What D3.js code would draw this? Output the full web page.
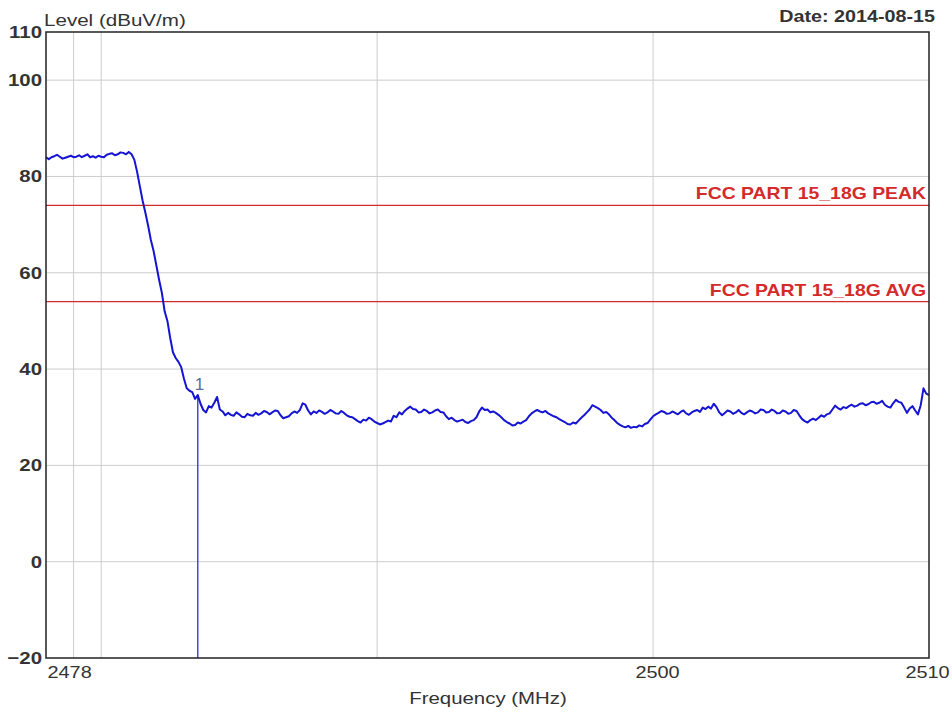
<!DOCTYPE html>
<html>
<head>
<meta charset="utf-8">
<script src="https://cdn.jsdelivr.net/npm/d3@7"></script>
<style>
  html, body { margin: 0; padding: 0; background: #fff; }
  svg { display: block; font-family: "Liberation Sans", Arial, sans-serif; }
</style>
</head>
<body>
<svg id="chart" width="952" height="714"></svg>
<script>
// Axis ranges and labels
const freqDomain = [2478, 2510];
const levelDomain = [-20, 110];
const xTickValues = [2478, 2500, 2510];
const yTickValues = [-20, 0, 20, 40, 60, 80, 100, 110];
const xGridValues = [2479, 2480, 2490, 2500];
const yGridValues = [0, 20, 40, 60, 80, 100];

// Limit lines (dBuV/m)
const limitNames = ["FCC PART 15_18G PEAK", "FCC PART 15_18G AVG"];
const limitLevels = [74, 54];

// Marker
const markerLabel = "1";
const markerFreq = 2483.5;
const markerLevel = 34.6;

// Measured trace: [frequency MHz, level dBuV/m]
const trace = [
  [2478.0, 84.0], [2478.1, 83.6], [2478.2, 84.0], [2478.3, 84.2], [2478.4, 84.5],
  [2478.5, 84.1], [2478.6, 83.7], [2478.7, 83.9], [2478.8, 84.1], [2478.9, 84.3],
  [2479.0, 84.0], [2479.1, 84.1], [2479.2, 84.4], [2479.3, 84.0], [2479.4, 84.3],
  [2479.5, 84.6], [2479.6, 84.0], [2479.7, 84.2], [2479.8, 83.9], [2479.9, 84.3],
  [2480.0, 84.1], [2480.1, 84.0], [2480.2, 84.5], [2480.3, 84.7], [2480.4, 84.8],
  [2480.5, 84.4], [2480.6, 84.6], [2480.7, 85.0], [2480.8, 84.9], [2480.9, 84.6],
  [2481.0, 85.1], [2481.1, 84.6], [2481.2, 83.5], [2481.3, 81.0], [2481.4, 78.0],
  [2481.5, 75.0], [2481.6, 72.5], [2481.7, 69.8], [2481.8, 66.8], [2481.9, 64.5],
  [2482.0, 61.5], [2482.1, 58.5], [2482.2, 55.8], [2482.3, 52.0], [2482.4, 50.0],
  [2482.5, 46.5], [2482.6, 43.5], [2482.7, 42.3], [2482.8, 41.5], [2482.9, 40.4],
  [2483.0, 38.0], [2483.1, 36.0], [2483.2, 35.5], [2483.3, 35.2], [2483.4, 33.8],
  [2483.5, 34.6], [2483.6, 32.8], [2483.7, 31.5], [2483.8, 31.0], [2483.9, 32.3],
  [2484.0, 32.0], [2484.1, 33.0], [2484.2, 34.2], [2484.3, 31.6], [2484.4, 31.2],
  [2484.5, 30.4], [2484.6, 30.9], [2484.7, 30.5], [2484.8, 30.3], [2484.9, 31.0],
  [2485.0, 30.6], [2485.1, 30.1], [2485.2, 30.0], [2485.3, 30.7], [2485.4, 30.4],
  [2485.5, 30.3], [2485.6, 30.9], [2485.7, 30.5], [2485.8, 30.8], [2485.9, 31.3],
  [2486.0, 31.1], [2486.1, 30.6], [2486.2, 31.0], [2486.3, 31.4], [2486.4, 31.3],
  [2486.5, 30.4], [2486.6, 29.8], [2486.7, 30.0], [2486.8, 30.2], [2486.9, 30.8],
  [2487.0, 31.2], [2487.1, 30.9], [2487.2, 31.5], [2487.3, 32.9], [2487.4, 32.6],
  [2487.5, 31.4], [2487.6, 30.6], [2487.7, 31.2], [2487.8, 30.9], [2487.9, 31.4],
  [2488.0, 31.1], [2488.1, 30.7], [2488.2, 31.0], [2488.3, 31.5], [2488.4, 31.2],
  [2488.5, 30.8], [2488.6, 30.7], [2488.7, 31.3], [2488.8, 30.9], [2488.9, 30.4],
  [2489.0, 30.1], [2489.1, 30.0], [2489.2, 29.6], [2489.3, 29.2], [2489.4, 28.9],
  [2489.5, 29.5], [2489.6, 29.3], [2489.7, 29.9], [2489.8, 29.6], [2489.9, 29.1],
  [2490.0, 28.8], [2490.1, 28.5], [2490.2, 28.7], [2490.3, 29.0], [2490.4, 29.3],
  [2490.5, 29.1], [2490.6, 30.3], [2490.7, 30.0], [2490.8, 31.0], [2490.9, 30.6],
  [2491.0, 31.3], [2491.1, 31.8], [2491.2, 32.2], [2491.3, 31.7], [2491.4, 31.6],
  [2491.5, 31.0], [2491.6, 31.1], [2491.7, 31.6], [2491.8, 31.3], [2491.9, 30.8],
  [2492.0, 31.0], [2492.1, 31.4], [2492.2, 31.6], [2492.3, 31.1], [2492.4, 31.0],
  [2492.5, 30.2], [2492.6, 29.6], [2492.7, 29.9], [2492.8, 29.4], [2492.9, 29.1],
  [2493.0, 29.3], [2493.1, 29.5], [2493.2, 29.0], [2493.3, 28.8], [2493.4, 29.2],
  [2493.5, 29.4], [2493.6, 30.0], [2493.7, 31.2], [2493.8, 32.0], [2493.9, 31.5],
  [2494.0, 31.6], [2494.1, 31.0], [2494.2, 31.2], [2494.3, 30.9], [2494.4, 30.5],
  [2494.5, 30.0], [2494.6, 29.4], [2494.7, 29.0], [2494.8, 28.7], [2494.9, 28.3],
  [2495.0, 28.4], [2495.1, 28.9], [2495.2, 28.7], [2495.3, 29.1], [2495.4, 29.4],
  [2495.5, 30.2], [2495.6, 30.8], [2495.7, 31.2], [2495.8, 31.5], [2495.9, 31.2],
  [2496.0, 31.0], [2496.1, 31.3], [2496.2, 30.8], [2496.3, 30.5], [2496.4, 30.2],
  [2496.5, 30.0], [2496.6, 29.6], [2496.7, 29.3], [2496.8, 29.0], [2496.9, 28.6],
  [2497.0, 28.5], [2497.1, 28.9], [2497.2, 28.7], [2497.3, 29.3], [2497.4, 29.9],
  [2497.5, 30.4], [2497.6, 31.0], [2497.7, 31.6], [2497.8, 32.5], [2497.9, 32.2],
  [2498.0, 31.9], [2498.1, 31.5], [2498.2, 30.9], [2498.3, 31.1], [2498.4, 30.6],
  [2498.5, 29.9], [2498.6, 29.4], [2498.7, 28.8], [2498.8, 28.4], [2498.9, 28.1],
  [2499.0, 27.9], [2499.1, 28.2], [2499.2, 27.8], [2499.3, 28.0], [2499.4, 27.9],
  [2499.5, 28.3], [2499.6, 28.1], [2499.7, 28.6], [2499.8, 28.8], [2499.9, 29.5],
  [2500.0, 30.2], [2500.1, 30.6], [2500.2, 30.9], [2500.3, 31.3], [2500.4, 31.1],
  [2500.5, 30.7], [2500.6, 30.8], [2500.7, 31.2], [2500.8, 30.9], [2500.9, 30.6],
  [2501.0, 31.1], [2501.1, 31.4], [2501.2, 30.8], [2501.3, 30.5], [2501.4, 31.0],
  [2501.5, 31.3], [2501.6, 31.5], [2501.7, 31.1], [2501.8, 32.0], [2501.9, 31.7],
  [2502.0, 32.2], [2502.1, 31.8], [2502.2, 32.8], [2502.3, 32.1], [2502.4, 31.0],
  [2502.5, 30.4], [2502.6, 30.9], [2502.7, 31.4], [2502.8, 31.2], [2502.9, 30.7],
  [2503.0, 31.0], [2503.1, 31.5], [2503.2, 30.9], [2503.3, 30.6], [2503.4, 31.0],
  [2503.5, 31.4], [2503.6, 31.2], [2503.7, 30.8], [2503.8, 31.0], [2503.9, 31.6],
  [2504.0, 31.5], [2504.1, 31.0], [2504.2, 31.1], [2504.3, 31.6], [2504.4, 31.3],
  [2504.5, 30.8], [2504.6, 30.9], [2504.7, 31.4], [2504.8, 31.2], [2504.9, 30.7],
  [2505.0, 30.9], [2505.1, 31.5], [2505.2, 31.3], [2505.3, 30.4], [2505.4, 29.6],
  [2505.5, 29.2], [2505.6, 28.9], [2505.7, 29.4], [2505.8, 29.7], [2505.9, 29.4],
  [2506.0, 29.9], [2506.1, 30.4], [2506.2, 30.1], [2506.3, 30.6], [2506.4, 30.8],
  [2506.5, 31.6], [2506.6, 32.4], [2506.7, 31.9], [2506.8, 31.6], [2506.9, 32.1],
  [2507.0, 31.9], [2507.1, 32.3], [2507.2, 32.6], [2507.3, 32.2], [2507.4, 32.4],
  [2507.5, 32.8], [2507.6, 32.9], [2507.7, 32.5], [2507.8, 32.7], [2507.9, 33.1],
  [2508.0, 33.2], [2508.1, 32.8], [2508.2, 33.0], [2508.3, 33.4], [2508.4, 32.6],
  [2508.5, 32.2], [2508.6, 32.0], [2508.7, 32.9], [2508.8, 33.6], [2508.9, 33.2],
  [2509.0, 33.0], [2509.1, 32.0], [2509.2, 30.9], [2509.3, 31.8], [2509.4, 32.3],
  [2509.5, 31.4], [2509.6, 30.6], [2509.7, 32.5], [2509.8, 36.0], [2509.9, 34.9],
  [2510.0, 34.6]
];

const W = 952, H = 714;
const margin = { top: 32, right: 23, bottom: 56, left: 46 };
const plotW = W - margin.left - margin.right;
const plotH = H - margin.top - margin.bottom;

const svg = d3.select("#chart");
const g = svg.append("g").attr("transform", `translate(${margin.left},${margin.top})`);

const x = d3.scaleLinear().domain(freqDomain).range([0, plotW]);
const y = d3.scaleLinear().domain(levelDomain).range([plotH, 0]);

const textColor = "#333";

// Widen glyphs horizontally by factor k (the printout uses a broad face)
function widen(sel, k) {
  sel.each(function () {
    const len = this.getComputedTextLength();
    d3.select(this).attr("textLength", len * k).attr("lengthAdjust", "spacingAndGlyphs");
  });
}

// Grid
g.append("g").selectAll("line").data(yGridValues).join("line")
  .attr("x1", 0).attr("x2", plotW)
  .attr("y1", d => y(d)).attr("y2", d => y(d))
  .attr("stroke", "#cdcdcd").attr("stroke-width", 1);
g.append("g").selectAll("line").data(xGridValues).join("line")
  .attr("x1", d => x(d)).attr("x2", d => x(d))
  .attr("y1", 0).attr("y2", plotH)
  .attr("stroke", "#cdcdcd").attr("stroke-width", 1);

// Limit lines and their names
limitLevels.forEach((lv, i) => {
  g.append("line")
    .attr("x1", 0).attr("x2", plotW)
    .attr("y1", y(lv)).attr("y2", y(lv))
    .attr("stroke", "#d42a2a").attr("stroke-width", 1.4);
  const t = g.append("text")
    .attr("x", plotW - 3).attr("y", y(lv) - 6)
    .attr("text-anchor", "end")
    .attr("fill", "#d42a2a")
    .attr("font-size", 17)
    .attr("font-weight", "bold")
    .text(limitNames[i]);
  widen(t, 1.14);
});

// Marker drop line
g.append("line")
  .attr("x1", x(markerFreq)).attr("x2", x(markerFreq))
  .attr("y1", y(markerLevel)).attr("y2", plotH)
  .attr("stroke", "#4a4ac8").attr("stroke-width", 1.5);

// Trace
const line = d3.line().x(d => x(d[0])).y(d => y(d[1]));
g.append("path").datum(trace)
  .attr("d", line)
  .attr("fill", "none")
  .attr("stroke", "#1414d2")
  .attr("stroke-width", 2)
  .attr("stroke-linejoin", "round");

// Marker label
g.append("text")
  .attr("x", x(markerFreq) - 3).attr("y", y(markerLevel) - 5)
  .attr("fill", "#5a6a9a")
  .attr("font-size", 17)
  .text(markerLabel);

// Frame
g.append("rect")
  .attr("x", 0).attr("y", 0).attr("width", plotW).attr("height", plotH)
  .attr("fill", "none").attr("stroke", "#222").attr("stroke-width", 1.5);

// Y axis labels
const yAxis = d3.axisLeft(y).tickValues(yTickValues).tickSize(0).tickPadding(4);
const ya = g.append("g").call(yAxis);
ya.select(".domain").remove();
ya.selectAll("text")
  .attr("font-family", "Liberation Sans, Arial, sans-serif")
  .attr("font-size", 17).attr("font-weight", "bold").attr("fill", textColor)
  .call(widen, 1.2);

// X axis labels
const xAxis = d3.axisBottom(x).tickValues(xTickValues).tickSize(0).tickPadding(8)
  .tickFormat(d3.format("d"));
const xa = g.append("g").attr("transform", `translate(0,${plotH})`).call(xAxis);
xa.select(".domain").remove();
xa.selectAll("text")
  .attr("font-family", "Liberation Sans, Arial, sans-serif")
  .attr("font-size", 17).attr("fill", textColor)
  .attr("text-anchor", d => d === freqDomain[0] ? "start" : "middle")
  .attr("dx", d => d === freqDomain[0] ? 1 : (d === freqDomain[1] ? -2 : 4))
  .call(widen, 1.17);

// Titles
svg.append("text")
  .attr("x", 44).attr("y", 26)
  .attr("font-size", 17).attr("fill", textColor)
  .text("Level (dBuV/m)")
  .call(widen, 1.21);
svg.append("text")
  .attr("x", 935).attr("y", 22)
  .attr("text-anchor", "end")
  .attr("font-size", 17).attr("font-weight", "bold").attr("fill", textColor)
  .text("Date: 2014-08-15")
  .call(widen, 1.16);
svg.append("text")
  .attr("x", 488).attr("y", 704)
  .attr("text-anchor", "middle")
  .attr("font-size", 17).attr("fill", textColor)
  .text("Frequency (MHz)")
  .call(widen, 1.2);
</script>
</body>
</html>
